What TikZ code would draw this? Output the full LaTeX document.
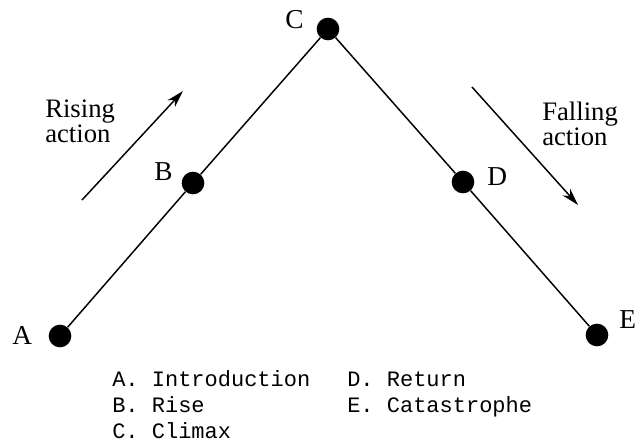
\documentclass[tikz,border=0pt]{standalone}
\usepackage{fontspec}
\setmainfont{Liberation Serif}
\newfontfamily\legendfont{Liberation Mono}
\usetikzlibrary{arrows.meta}
\begin{document}
\begin{tikzpicture}[x=0.75pt,y=-0.75pt,
  dotnode/.style={circle,fill=black,inner sep=0pt,minimum size=17pt},
  plotline/.style={line width=1.1pt},
  dirarrow/.style={line width=1.1pt,-{Stealth[length=13pt,width=7.5pt,inset=4pt]}},
  ptlabel/.style={anchor=base west,inner sep=0pt,font=\fontsize{20.5}{20}\selectfont},
  sidetext/.style={anchor=base west,inner sep=0pt,align=left,font=\fontsize{20}{15}\selectfont},
  legend/.style={anchor=base west,inner sep=0pt,font=\legendfont\fontsize{16.5}{20}\selectfont}]
\useasboundingbox (0,0) rectangle (644,444);
% dots
\node[dotnode] (A) at (60,336) {};
\node[dotnode] (B) at (193,183) {};
\node[dotnode] (C) at (328,29) {};
\node[dotnode] (D) at (463,182) {};
\node[dotnode] (E) at (597,335) {};
% lines
\draw[plotline] (A) -- (B);
\draw[plotline] (B) -- (C);
\draw[plotline] (C) -- (D);
\draw[plotline] (D) -- (E);
% point labels
\node[ptlabel] (la) at (12,344) {A};
\node[ptlabel] (lb) at (154,180) {B};
\node[ptlabel] (lc) at (285,28) {C};
\node[ptlabel] (ld) at (487,185) {D};
\node[ptlabel] (le) at (619,328) {E};
% direction arrows
\coordinate (r1) at (82,200);
\coordinate (r2) at (183,91);
\coordinate (f1) at (472,87);
\coordinate (f2) at (578,205);
\draw[dirarrow] (r1) -- (r2);
\draw[dirarrow] (f1) -- (f2);
\node[sidetext] (rise) at (45,142) {Rising\\action};
\node[sidetext] (fall) at (542,145) {Falling\\action};
% legend
\node[legend] (g1) at (112,386) {A. Introduction};
\node[legend] (g2) at (112,412) {B. Rise};
\node[legend] (g3) at (112,438) {C. Climax};
\node[legend] (g4) at (347,386) {D. Return};
\node[legend] (g5) at (347,412) {E. Catastrophe};
\end{tikzpicture}
\end{document}
